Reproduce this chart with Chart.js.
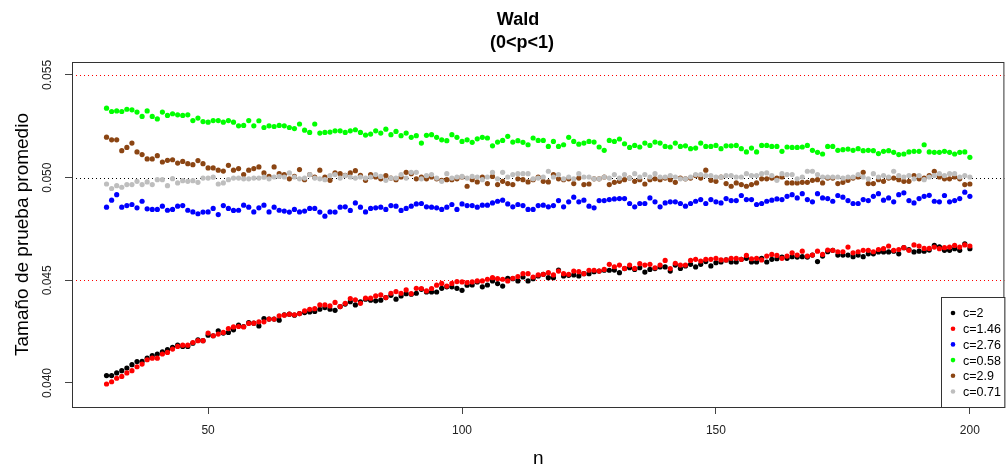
<!DOCTYPE html>
<html>
<head>
<meta charset="utf-8">
<script src="https://cdn.jsdelivr.net/npm/chart.js@4/dist/chart.umd.min.js"></script>
<style>
  html, body { margin: 0; padding: 0; background: #fff; }
  #wrap { width: 1007px; height: 470px; position: relative; }
</style>
</head>
<body>
<div id="wrap"><canvas id="waldChart"></canvas></div>
<script>
// --- Dados ---
const nValues = Array.from({ length: 171 }, (_, i) => 30 + i); // n = 30..200

const seriesLabels = ['c=2', 'c=1.46', 'c=2.76', 'c=0.58', 'c=2.9', 'c=0.71'];
const seriesColors = ['#000000', '#FF0000', '#0000FF', '#00FF00', '#8B4513', '#BEBEBE'];

const c2 = [
  0.04036, 0.04036, 0.04049, 0.04060, 0.04073, 0.04089, 0.04104, 0.04105, 0.04121, 0.04133,
  0.04141, 0.04152, 0.04162, 0.04173, 0.04184, 0.04178, 0.04178, 0.04194, 0.04210, 0.04206,
  0.04233, 0.04230, 0.04254, 0.04243, 0.04246, 0.04259, 0.04282, 0.04275, 0.04294, 0.04291,
  0.04278, 0.04314, 0.04311, 0.04311, 0.04306, 0.04332, 0.04335, 0.04330, 0.04338, 0.04343,
  0.04346, 0.04348, 0.04359, 0.04367, 0.04359, 0.04354, 0.04372, 0.04384, 0.04396, 0.04380,
  0.04395, 0.04408, 0.04403, 0.04400, 0.04403, 0.04416, 0.04427, 0.04408, 0.04424, 0.04435,
  0.04432, 0.04437, 0.04456, 0.04443, 0.04443, 0.04443, 0.04461, 0.04468, 0.04468, 0.04461,
  0.04451, 0.04476, 0.04477, 0.04492, 0.04468, 0.04477, 0.04497, 0.04484, 0.04472, 0.04510,
  0.04508, 0.04497, 0.04516, 0.04497, 0.04508, 0.04521, 0.04529, 0.04513, 0.04513, 0.04550,
  0.04521, 0.04524, 0.04526, 0.04521, 0.04532, 0.04532, 0.04542, 0.04545, 0.04549, 0.04549,
  0.04550, 0.04537, 0.04557, 0.04561, 0.04553, 0.04561, 0.04540, 0.04553, 0.04557, 0.04565,
  0.04565, 0.04545, 0.04574, 0.04558, 0.04570, 0.04578, 0.04565, 0.04578, 0.04591, 0.04570,
  0.04586, 0.04589, 0.04599, 0.04589, 0.04589, 0.04602, 0.04607, 0.04589, 0.04589, 0.04607,
  0.04589, 0.04602, 0.04605, 0.04613, 0.04607, 0.04615, 0.04613, 0.04615, 0.04613, 0.04623,
  0.04591, 0.04618, 0.04639, 0.04646, 0.04623, 0.04623, 0.04623, 0.04615, 0.04623, 0.04615,
  0.04629, 0.04629, 0.04638, 0.04638, 0.04638, 0.04642, 0.04629, 0.04659, 0.04650, 0.04638,
  0.04642, 0.04642, 0.04647, 0.04670, 0.04663, 0.04646, 0.04646, 0.04654, 0.04646, 0.04678,
  0.04654
];

const c146 = [
  0.03995, 0.04006, 0.04023, 0.04032, 0.04049, 0.04060, 0.04079, 0.04092, 0.04113, 0.04121,
  0.04121, 0.04141, 0.04149, 0.04165, 0.04178, 0.04184, 0.04184, 0.04197, 0.04206, 0.04206,
  0.04243, 0.04230, 0.04238, 0.04246, 0.04265, 0.04273, 0.04275, 0.04273, 0.04290, 0.04291,
  0.04298, 0.04298, 0.04311, 0.04311, 0.04327, 0.04330, 0.04335, 0.04332, 0.04338, 0.04351,
  0.04359, 0.04362, 0.04380, 0.04380, 0.04375, 0.04392, 0.04372, 0.04388, 0.04411, 0.04405,
  0.04388, 0.04413, 0.04413, 0.04424, 0.04429, 0.04416, 0.04437, 0.04445, 0.04437, 0.04453,
  0.04435, 0.04461, 0.04460, 0.04448, 0.04460, 0.04476, 0.04485, 0.04472, 0.04485, 0.04494,
  0.04492, 0.04489, 0.04492, 0.04497, 0.04497, 0.04505, 0.04513, 0.04508, 0.04505, 0.04497,
  0.04510, 0.04518, 0.04532, 0.04532, 0.04516, 0.04526, 0.04529, 0.04537, 0.04526, 0.04545,
  0.04532, 0.04529, 0.04545, 0.04542, 0.04532, 0.04549, 0.04549, 0.04545, 0.04553, 0.04578,
  0.04566, 0.04574, 0.04558, 0.04574, 0.04558, 0.04581, 0.04574, 0.04578, 0.04561, 0.04574,
  0.04597, 0.04557, 0.04583, 0.04574, 0.04574, 0.04597, 0.04602, 0.04594, 0.04602, 0.04602,
  0.04607, 0.04599, 0.04599, 0.04607, 0.04607, 0.04602, 0.04621, 0.04605, 0.04607, 0.04599,
  0.04618, 0.04626, 0.04621, 0.04607, 0.04618, 0.04634, 0.04623, 0.04642, 0.04618, 0.04623,
  0.04642, 0.04626, 0.04647, 0.04646, 0.04639, 0.04639, 0.04662, 0.04634, 0.04639, 0.04646,
  0.04646, 0.04639, 0.04650, 0.04654, 0.04667, 0.04646, 0.04650, 0.04659, 0.04646, 0.04672,
  0.04667, 0.04655, 0.04655, 0.04662, 0.04654, 0.04659, 0.04662, 0.04670, 0.04662, 0.04672,
  0.04667
];

const c276 = [
  0.04856, 0.04890, 0.04917, 0.04856, 0.04864, 0.04869, 0.04853, 0.04885, 0.04848, 0.04845,
  0.04845, 0.04861, 0.04841, 0.04845, 0.04861, 0.04864, 0.04841, 0.04833, 0.04824, 0.04832,
  0.04833, 0.04850, 0.04820, 0.04864, 0.04850, 0.04840, 0.04841, 0.04866, 0.04856, 0.04833,
  0.04853, 0.04866, 0.04833, 0.04856, 0.04841, 0.04837, 0.04832, 0.04845, 0.04833, 0.04837,
  0.04850, 0.04850, 0.04832, 0.04812, 0.04833, 0.04832, 0.04856, 0.04858, 0.04840, 0.04877,
  0.04856, 0.04833, 0.04850, 0.04853, 0.04856, 0.04845, 0.04864, 0.04861, 0.04840, 0.04850,
  0.04861, 0.04872, 0.04874, 0.04858, 0.04856, 0.04853, 0.04845, 0.04856, 0.04869, 0.04845,
  0.04872, 0.04864, 0.04864, 0.04856, 0.04866, 0.04866, 0.04877, 0.04885, 0.04890, 0.04872,
  0.04858, 0.04869, 0.04864, 0.04845, 0.04845, 0.04864, 0.04866, 0.04858, 0.04864, 0.04888,
  0.04858, 0.04882, 0.04905, 0.04882, 0.04890, 0.04861, 0.04853, 0.04888, 0.04888, 0.04893,
  0.04896, 0.04898, 0.04898, 0.04874, 0.04858, 0.04874, 0.04874, 0.04901, 0.04882, 0.04858,
  0.04877, 0.04882, 0.04882, 0.04874, 0.04861, 0.04874, 0.04885, 0.04893, 0.04874, 0.04893,
  0.04882, 0.04877, 0.04898, 0.04888, 0.04888, 0.04913, 0.04893, 0.04893, 0.04869, 0.04874,
  0.04885, 0.04890, 0.04896, 0.04893, 0.04909, 0.04917, 0.04901, 0.04922, 0.04893, 0.04882,
  0.04922, 0.04901, 0.04898, 0.04885, 0.04913, 0.04905, 0.04888, 0.04874, 0.04874, 0.04893,
  0.04888, 0.04909, 0.04922, 0.04890, 0.04901, 0.04882, 0.04917, 0.04926, 0.04888, 0.04877,
  0.04898, 0.04909, 0.04914, 0.04885, 0.04882, 0.04913, 0.04882, 0.04888, 0.04898, 0.04929,
  0.04909
];

const c058 = [
  0.05338, 0.05322, 0.05325, 0.05322, 0.05333, 0.05330, 0.05319, 0.05298, 0.05325, 0.05298,
  0.05286, 0.05319, 0.05303, 0.05311, 0.05306, 0.05303, 0.05306, 0.05278, 0.05290, 0.05273,
  0.05270, 0.05278, 0.05278, 0.05270, 0.05278, 0.05270, 0.05252, 0.05254, 0.05278, 0.05252,
  0.05277, 0.05244, 0.05252, 0.05249, 0.05254, 0.05252, 0.05244, 0.05239, 0.05261, 0.05231,
  0.05220, 0.05261, 0.05217, 0.05220, 0.05222, 0.05228, 0.05228, 0.05220, 0.05228, 0.05233,
  0.05220, 0.05207, 0.05212, 0.05228, 0.05217, 0.05236, 0.05209, 0.05225, 0.05204, 0.05217,
  0.05196, 0.05204, 0.05168, 0.05206, 0.05209, 0.05196, 0.05184, 0.05180, 0.05209, 0.05196,
  0.05176, 0.05184, 0.05172, 0.05189, 0.05196, 0.05193, 0.05155, 0.05173, 0.05181, 0.05201,
  0.05173, 0.05180, 0.05172, 0.05160, 0.05193, 0.05181, 0.05181, 0.05152, 0.05176, 0.05152,
  0.05160, 0.05196, 0.05176, 0.05163, 0.05168, 0.05176, 0.05173, 0.05149, 0.05133, 0.05181,
  0.05176, 0.05188, 0.05165, 0.05147, 0.05157, 0.05149, 0.05168, 0.05157, 0.05173, 0.05168,
  0.05152, 0.05149, 0.05168, 0.05152, 0.05155, 0.05141, 0.05144, 0.05168, 0.05152, 0.05152,
  0.05157, 0.05141, 0.05155, 0.05155, 0.05157, 0.05141, 0.05125, 0.05144, 0.05125, 0.05157,
  0.05157, 0.05152, 0.05152, 0.05128, 0.05149, 0.05147, 0.05147, 0.05149, 0.05157, 0.05133,
  0.05123, 0.05115, 0.05152, 0.05152, 0.05133, 0.05136, 0.05139, 0.05133, 0.05141, 0.05131,
  0.05133, 0.05131, 0.05117, 0.05128, 0.05131, 0.05123, 0.05112, 0.05115, 0.05125, 0.05128,
  0.05128, 0.05160, 0.05125, 0.05123, 0.05123, 0.05128, 0.05123, 0.05115, 0.05123, 0.05125,
  0.05099
];

const c29 = [
  0.05197, 0.05184, 0.05184, 0.05131, 0.05147, 0.05168, 0.05125, 0.05112, 0.05091, 0.05091,
  0.05107, 0.05076, 0.05084, 0.05087, 0.05071, 0.05079, 0.05068, 0.05063, 0.05083, 0.05068,
  0.05047, 0.05047, 0.05036, 0.05032, 0.05060, 0.05036, 0.05044, 0.05015, 0.05036, 0.05044,
  0.05052, 0.05023, 0.05006, 0.05052, 0.05019, 0.05015, 0.04994, 0.05006, 0.05039, 0.04990,
  0.05015, 0.05003, 0.05036, 0.05003, 0.04987, 0.05023, 0.05019, 0.05011, 0.05023, 0.05034,
  0.05011, 0.04987, 0.05015, 0.05003, 0.04994, 0.05010, 0.04998, 0.04990, 0.05003, 0.05026,
  0.05019, 0.04994, 0.05003, 0.04994, 0.05003, 0.04994, 0.04987, 0.04990, 0.04990, 0.04994,
  0.05003, 0.04958, 0.04990, 0.04979, 0.05003, 0.04971, 0.05006, 0.04966, 0.04982, 0.04971,
  0.04966, 0.04994, 0.04990, 0.04979, 0.04990, 0.05003, 0.04982, 0.04979, 0.05015, 0.04994,
  0.04990, 0.04994, 0.04971, 0.04998, 0.04966, 0.04969, 0.04994, 0.04994, 0.05003, 0.04966,
  0.04977, 0.04982, 0.04990, 0.04998, 0.04982, 0.04990, 0.04969, 0.04990, 0.04994, 0.04990,
  0.04998, 0.04990, 0.04977, 0.04998, 0.04994, 0.04998, 0.05010, 0.04998, 0.05036, 0.04987,
  0.04982, 0.05003, 0.04971, 0.04958, 0.04974, 0.04966, 0.04958, 0.04966, 0.04974, 0.04994,
  0.04994, 0.04998, 0.04998, 0.05003, 0.04974, 0.04974, 0.04974, 0.04977, 0.04977, 0.04987,
  0.04990, 0.04974, 0.04998, 0.04998, 0.04971, 0.04977, 0.04987, 0.04998, 0.05003, 0.05026,
  0.04971, 0.04971, 0.04990, 0.04982, 0.04998, 0.04998, 0.04990, 0.04982, 0.04982, 0.05010,
  0.04994, 0.04998, 0.05010, 0.05031, 0.05003, 0.04994, 0.04994, 0.05003, 0.04994, 0.04966,
  0.04969
];

const c071 = [
  0.04969, 0.04947, 0.04961, 0.04953, 0.04966, 0.04966, 0.04982, 0.04966, 0.04979, 0.04966,
  0.04990, 0.04990, 0.04961, 0.04995, 0.04974, 0.04985, 0.04982, 0.04985, 0.04977, 0.04998,
  0.04998, 0.05002, 0.04969, 0.04974, 0.04990, 0.04998, 0.04998, 0.04994, 0.04994, 0.04998,
  0.04998, 0.05002, 0.04994, 0.05003, 0.05006, 0.05003, 0.05023, 0.05003, 0.04994, 0.04998,
  0.05015, 0.04998, 0.04994, 0.04990, 0.05010, 0.05015, 0.04998, 0.05010, 0.05003, 0.04998,
  0.05003, 0.04998, 0.05003, 0.05015, 0.05006, 0.04987, 0.04998, 0.04998, 0.05015, 0.04998,
  0.05026, 0.05026, 0.04994, 0.05010, 0.05015, 0.04998, 0.04982, 0.05019, 0.04998, 0.05003,
  0.05006, 0.04998, 0.05006, 0.05003, 0.04990, 0.05003, 0.05026, 0.04994, 0.05026, 0.05003,
  0.05015, 0.05019, 0.05019, 0.05019, 0.04994, 0.04998, 0.05003, 0.05031, 0.05003, 0.05015,
  0.04994, 0.05003, 0.04994, 0.05019, 0.05003, 0.05003, 0.04994, 0.04994, 0.05003, 0.04998,
  0.05015, 0.04998, 0.05015, 0.04998, 0.05019, 0.05003, 0.05015, 0.05003, 0.05019, 0.05003,
  0.05003, 0.05010, 0.05003, 0.04994, 0.04994, 0.05003, 0.05015, 0.05015, 0.05010, 0.05010,
  0.05003, 0.05003, 0.05010, 0.05010, 0.05003, 0.05003, 0.05019, 0.05010, 0.05010, 0.05019,
  0.05023, 0.05010, 0.04987, 0.05019, 0.05015, 0.05015, 0.04994, 0.05003, 0.05031, 0.05031,
  0.05015, 0.05003, 0.05003, 0.05003, 0.05003, 0.04998, 0.05003, 0.05003, 0.05015, 0.05003,
  0.04994, 0.05019, 0.05003, 0.05010, 0.05003, 0.05031, 0.05010, 0.05003, 0.05010, 0.04994,
  0.05010, 0.04990, 0.05003, 0.05010, 0.05019, 0.05010, 0.05019, 0.05019, 0.05003, 0.05010,
  0.05003
];

const seriesValues = [c2, c146, c276, c058, c29, c071];

// Ejes
const xTicks = [50, 100, 150, 200];
const yTicks = [0.040, 0.045, 0.050, 0.055];
const xRange = [23.2, 206.8];
const yRange = [0.03883, 0.05563];

// Líneas de referencia (abline)
const refLines = [
  { value: 0.055, color: '#FF0000' },
  { value: 0.050, color: '#000000' },
  { value: 0.045, color: '#FF0000' }
];

const FONT = '"Liberation Sans", Arial, sans-serif';

// --- Plugin: marco, líneas, títulos y leyenda al estilo de R ---
const rStylePlugin = {
  id: 'rStyle',
  beforeDatasetsDraw(chart) {
    const { ctx, chartArea, scales } = chart;
    ctx.save();
    ctx.lineWidth = 1;
    ctx.setLineDash([1, 3]);
    refLines.forEach(line => {
      const y = Math.round(scales.y.getPixelForValue(line.value)) + 0.5;
      ctx.strokeStyle = line.color;
      ctx.beginPath();
      ctx.moveTo(chartArea.left, y);
      ctx.lineTo(chartArea.right, y);
      ctx.stroke();
    });
    ctx.restore();
  },
  afterDraw(chart) {
    const { ctx, chartArea, scales } = chart;
    ctx.save();

    // caja del gráfico
    ctx.strokeStyle = '#333';
    ctx.lineWidth = 1;
    ctx.strokeRect(chartArea.left + 0.5, chartArea.top + 0.5,
      chartArea.right - chartArea.left - 1, chartArea.bottom - chartArea.top);

    // etiquetas del eje y (giradas)
    ctx.fillStyle = '#222';
    ctx.font = '12px ' + FONT;
    ctx.textAlign = 'center';
    ctx.textBaseline = 'middle';
    scales.y.ticks.forEach(t => {
      const y = scales.y.getPixelForValue(t.value);
      ctx.save();
      ctx.translate(48, y);
      ctx.rotate(-Math.PI / 2);
      ctx.fillText(t.value.toFixed(3), 0, 0);
      ctx.restore();
    });

    // título
    ctx.fillStyle = '#000';
    ctx.font = 'bold 18px ' + FONT;
    ctx.textBaseline = 'alphabetic';
    ctx.fillText('Wald', 518, 25);
    ctx.fillText('(0<p<1)', 522, 48);

    // títulos de los ejes
    ctx.font = '19px ' + FONT;
    ctx.fillText('n', (chartArea.left + chartArea.right) / 2, 464);
    ctx.save();
    ctx.translate(28, (chartArea.top + chartArea.bottom) / 2);
    ctx.rotate(-Math.PI / 2);
    ctx.fillText('Tamaño de prueba promedio', 0, 0);
    ctx.restore();

    // leyenda
    const lx = 941, ly = 297, lw = chartArea.right - lx, lh = chartArea.bottom - ly;
    ctx.fillStyle = '#fff';
    ctx.fillRect(lx, ly, lw, lh);
    ctx.strokeStyle = '#333';
    ctx.strokeRect(lx + 0.5, ly + 0.5, lw, lh);
    ctx.font = '12.5px ' + FONT;
    ctx.textAlign = 'left';
    ctx.textBaseline = 'middle';
    seriesLabels.forEach((label, i) => {
      const y = 313 + i * 15.7;
      ctx.fillStyle = seriesColors[i];
      ctx.beginPath();
      ctx.arc(953, y, 2.3, 0, Math.PI * 2);
      ctx.fill();
      ctx.fillStyle = '#000';
      ctx.fillText(label, 963, y + 1);
    });

    ctx.restore();
  }
};

const datasets = seriesLabels.map((label, i) => ({
  label: label,
  data: nValues.map((n, k) => ({ x: n, y: seriesValues[i][k] })),
  backgroundColor: seriesColors[i],
  borderWidth: 0,
  pointRadius: 2.6,
  pointHoverRadius: 2.6,
  showLine: false,
  order: seriesLabels.length - i // las últimas series quedan encima
}));

new Chart(document.getElementById('waldChart'), {
  type: 'scatter',
  data: { datasets },
  plugins: [rStylePlugin],
  options: {
    responsive: true,
    maintainAspectRatio: false,
    animation: false,
    layout: { padding: { top: 62, right: 2, left: 0, bottom: 0 } },
    plugins: {
      legend: { display: false },
      tooltip: { enabled: false },
      title: { display: false }
    },
    scales: {
      x: {
        type: 'linear',
        min: xRange[0],
        max: xRange[1],
        afterBuildTicks: scale => { scale.ticks = xTicks.map(v => ({ value: v })); },
        afterFit: scale => { scale.height = 63; },
        grid: { drawOnChartArea: false, drawTicks: true, tickLength: 7, color: '#444' },
        border: { display: false },
        ticks: { padding: 9, color: '#222', font: { family: FONT, size: 12 }, maxRotation: 0 }
      },
      y: {
        type: 'linear',
        min: yRange[0],
        max: yRange[1],
        afterBuildTicks: scale => { scale.ticks = yTicks.map(v => ({ value: v })); },
        afterFit: scale => { scale.width = 72; },
        grid: { drawOnChartArea: false, drawTicks: true, tickLength: 7, color: '#444' },
        border: { display: false },
        ticks: { display: false }
      }
    }
  }
});
</script>
</body>
</html>
